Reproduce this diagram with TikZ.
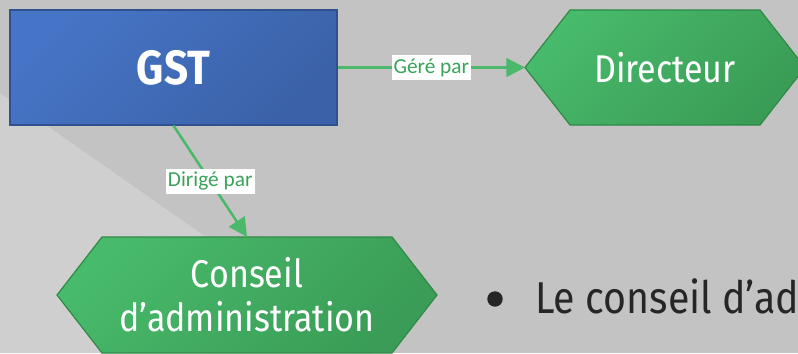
\documentclass[tikz,border=0pt]{standalone}
\usepackage{fontspec}
\setmainfont{Fira Sans}
\newfontfamily\tf[FakeStretch=0.88]{Fira Sans}
\newfontfamily\lf{Carlito}
\usetikzlibrary{arrows.meta}
\definecolor{bgc}{HTML}{C3C3C3}
\definecolor{bgl}{HTML}{CFCFCF}
\definecolor{blueA}{HTML}{4674C6}
\definecolor{blueB}{HTML}{3B62A8}
\definecolor{blueE}{HTML}{2F528F}
\definecolor{greenA}{HTML}{48BA6B}
\definecolor{greenB}{HTML}{3A9C56}
\definecolor{greenE}{HTML}{2F8A45}
\definecolor{conn}{HTML}{4CB86B}
\definecolor{labc}{HTML}{3AA35A}
\definecolor{txt}{HTML}{262626}
\tikzset{
  hexshape/.style={draw=greenE, line width=0.9pt, top color=greenA, bottom color=greenB, shading angle=45},
  hextext/.style={text=white, font=\tf\fontsize{29}{33}\selectfont, align=center, inner sep=0pt},
  gstbox/.style={draw=blueE, line width=0.9pt, top color=blueA, bottom color=blueB, shading angle=45,
    minimum width=245.25pt, minimum height=86.25pt, inner sep=0pt, text=white,
    font=\tf\bfseries\fontsize{36}{40}\selectfont},
  conn/.style={draw=conn, line width=1.9pt, -{Triangle[length=14pt, width=14pt]}},
  lab/.style={fill=white, text=labc, font=\lf\fontsize{16}{18}\selectfont, inner xsep=1.5pt, inner ysep=0pt, minimum height=18.75pt}
}
\begin{document}
\begin{tikzpicture}[x=0.75pt, y=-0.75pt]
\path[use as bounding box] (0,0) rectangle (798,353);
\clip (0,0) rectangle (798,353);
\fill[bgc] (0,0) rectangle (798,353);
\fill[bgl] (0,93) -- (372,353) -- (0,353) -- cycle;

% GST
\node[gstbox] (gst) at (173.5,67.5) {GST};

% Directeur hexagon
\path[hexshape] (525,67.5) -- (570,10) -- (760,10) -- (805,67.5) -- (760,125) -- (570,125) -- cycle;
\coordinate (dirtip) at (525,67.5);
\node[hextext] (dir) at (665,67.5) {Directeur};

% Conseil hexagon
\path[hexshape] (57,295) -- (102,237) -- (392,237) -- (437,295) -- (392,353) -- (102,353) -- cycle;
\coordinate (contop) at (247,237);
\node[hextext] (con) at (247,295) {Conseil\\d’administration};

% connectors
\draw[conn] (gst.east) -- (dirtip) node[lab, midway] (l1) {Géré par};
\draw[conn] (gst.south) -- (contop) node[lab, midway] (l2) {Dirigé par};

% bullet text
\fill[txt] (495,299) circle (5.8pt);
\node[anchor=base west, inner sep=0pt, text=txt, font=\tf\fontsize{33.5}{38}\selectfont] (bul) at (535,313) {Le conseil d’administration};
\end{tikzpicture}
\end{document}
